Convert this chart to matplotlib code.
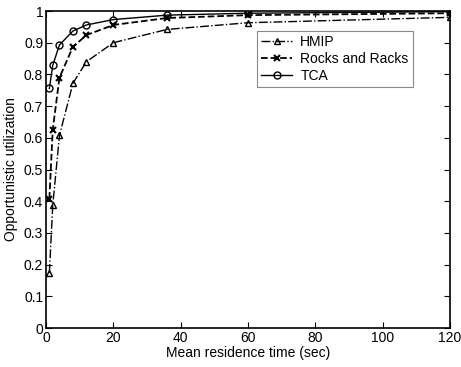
import matplotlib.pyplot as plt

plt.rcParams['font.family'] = ['Liberation Sans', 'DejaVu Sans']
plt.rcParams['font.size'] = 10

residence = [1, 2, 4, 8, 12, 20, 36, 60, 120]
hmip = [0.174, 0.387, 0.608, 0.772, 0.84, 0.90, 0.942, 0.963, 0.98]
rocks = [0.408, 0.626, 0.79, 0.887, 0.924, 0.956, 0.978, 0.987, 0.993]
tca = [0.756, 0.829, 0.893, 0.937, 0.956, 0.973, 0.987, 0.993, 0.998]

fig = plt.figure(figsize=(4.61, 3.67), dpi=100)
ax = fig.add_axes([0.0998, 0.106, 0.8762, 0.864])

ax.plot(residence, hmip, 'k-.', marker='^', mfc='none', ms=5, lw=1, label='HMIP')
ax.plot(residence, rocks, 'k--', marker='x', ms=4.5, mew=1.5, lw=1.3, label='Rocks and Racks')
ax.plot(residence, tca, 'k-', marker='o', mfc='none', ms=5, lw=1, label='TCA')

ax.set_xlim(0, 120)
ax.set_ylim(0, 1)
ax.set_xticks(range(0, 121, 20))
ax.set_yticks([i / 10 for i in range(11)])
ax.set_yticklabels(['0', '0.1', '0.2', '0.3', '0.4', '0.5', '0.6', '0.7', '0.8', '0.9', '1'])
ax.tick_params(direction='in', top=True, right=True, length=4, pad=2)
for s in ax.spines.values():
    s.set_linewidth(1.2)

ax.set_xlabel('Mean residence time (sec)', labelpad=1)
ax.set_ylabel('Opportunistic utilization', labelpad=4)

leg = ax.legend(loc='upper right', bbox_to_anchor=(0.908, 0.937), borderaxespad=0,
                fancybox=False, framealpha=1, edgecolor='#888888',
                handlelength=2.2, handletextpad=0.6, labelspacing=0.2, borderpad=0.3)
leg.get_frame().set_linewidth(0.8)

fig.savefig('out.png', dpi=100)
